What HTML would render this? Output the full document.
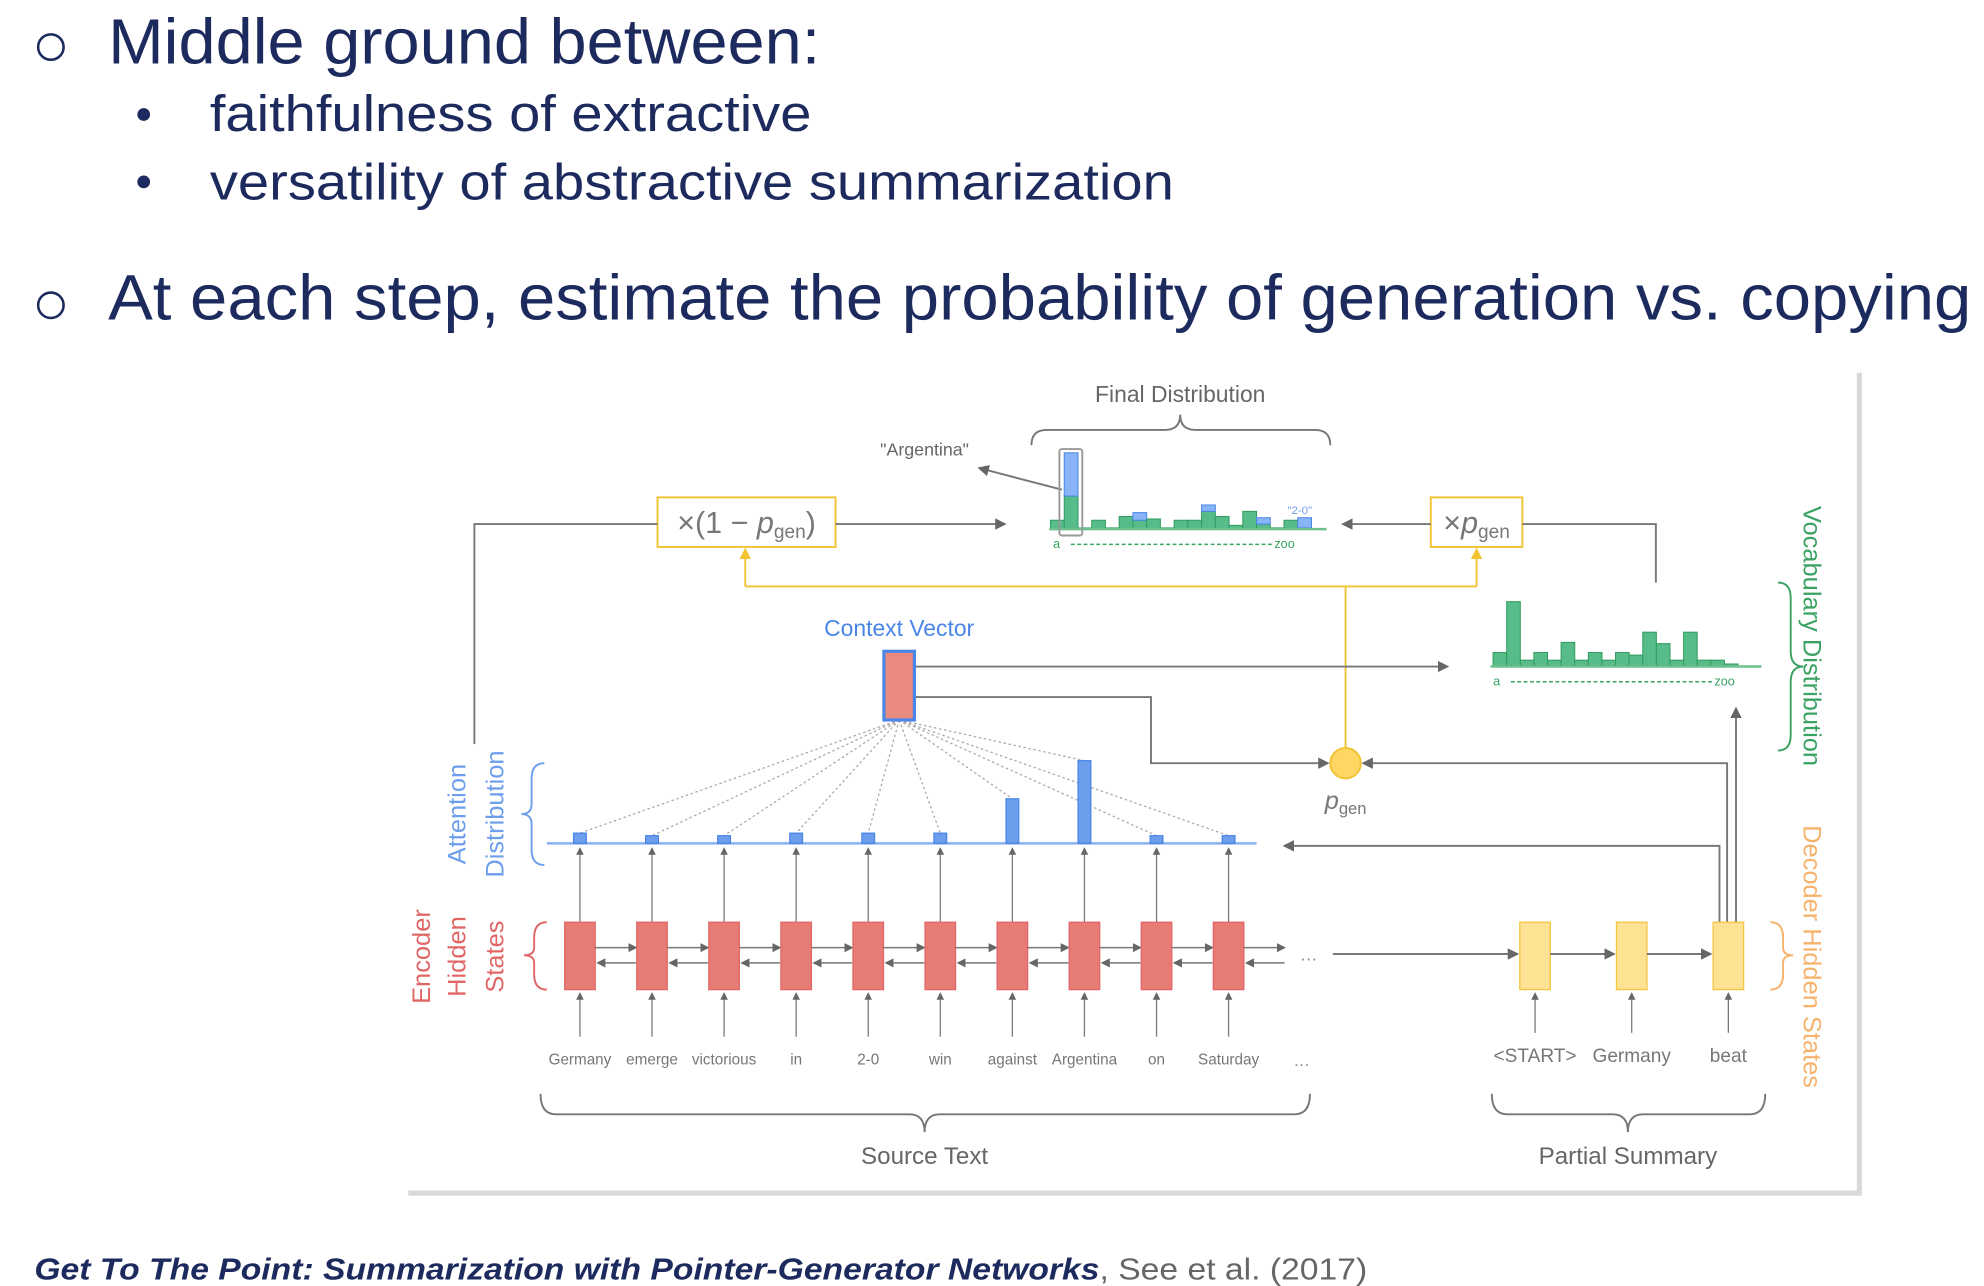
<!DOCTYPE html>
<html><head><meta charset="utf-8"><style>
html,body{margin:0;padding:0;background:#fff;}
svg{display:block;}
text{font-family:"Liberation Sans",sans-serif;}
</style></head><body>
<svg id="s" width="1984" height="1286" viewBox="0 0 1560 1011" preserveAspectRatio="none">
<defs>
<marker id="ag" markerWidth="6" markerHeight="6" refX="5" refY="3" orient="auto"><path d="M0,0 L6,3 L0,6z" fill="#666"/></marker>
<marker id="ay" markerWidth="6" markerHeight="6" refX="5" refY="3" orient="auto"><path d="M0,0 L6,3 L0,6z" fill="#f1c232"/></marker>
</defs>
<g fill="#1c2a5e">
<circle cx="40" cy="37" r="10" fill="none" stroke="#1c2a5e" stroke-width="2"/>
<text x="85" y="50" font-size="50" textLength="560" lengthAdjust="spacingAndGlyphs">Middle ground between:</text>
<circle cx="113" cy="90" r="5"/>
<text x="165" y="103" font-size="40" textLength="473" lengthAdjust="spacingAndGlyphs">faithfulness of extractive</text>
<circle cx="113" cy="143" r="5"/>
<text x="165" y="157" font-size="40" textLength="758" lengthAdjust="spacingAndGlyphs">versatility of abstractive summarization</text>
<circle cx="40" cy="240" r="10" fill="none" stroke="#1c2a5e" stroke-width="2"/>
<text x="85" y="251" font-size="50" textLength="1465" lengthAdjust="spacingAndGlyphs">At each step, estimate the probability of generation vs. copying</text>
</g>
<g>
<rect x="321" y="293" width="1143" height="647" fill="#d8d8d8"/>
<rect x="318" y="290" width="1142" height="646" fill="#fff"/>
</g>
<g id="d" fill="none" stroke="#777" stroke-width="1.5">
<text x="928" y="316" font-size="18" fill="#666" stroke="none" text-anchor="middle">Final Distribution</text>
<path d="M811,350 Q811,338 823,338 L916,338 Q928,338 928,326 Q928,338 940,338 L1034,338 Q1046,338 1046,350"/>
<text x="727" y="358" font-size="14" fill="#666" stroke="none" text-anchor="middle">"Argentina"</text>
<line x1="835" y1="385" x2="770" y2="368" marker-end="url(#ag)"/>
<rect x="517" y="391" width="140" height="39" stroke="#f1c232" fill="#fff"/>
<text x="587" y="419" font-size="24" fill="#777" stroke="none" text-anchor="middle" font-family="Liberation Serif">×(1 − <tspan font-style="italic">p</tspan><tspan font-size="15" dy="4">gen</tspan><tspan dy="-4">)</tspan></text>
<rect x="1125" y="391" width="72" height="39" stroke="#f1c232" fill="#fff"/>
<text x="1161" y="419" font-size="24" fill="#777" stroke="none" text-anchor="middle" font-family="Liberation Serif">×<tspan font-style="italic">p</tspan><tspan font-size="15" dy="4">gen</tspan></text>
<path d="M373,585 L373,412 L517,412"/>
<line x1="657" y1="412" x2="790" y2="412" marker-end="url(#ag)"/>
<line x1="1125" y1="412" x2="1056" y2="412" marker-end="url(#ag)"/>
<path d="M1197,412 L1302,412 L1302,458"/>
<path d="M586,461 L1161,461" stroke="#f1c232"/>
<line x1="586" y1="461" x2="586" y2="432" stroke="#f1c232" marker-end="url(#ay)"/>
<line x1="1161" y1="461" x2="1161" y2="432" stroke="#f1c232" marker-end="url(#ay)"/>
<line x1="1058" y1="461" x2="1058" y2="588" stroke="#f1c232"/>
<circle cx="1058" cy="600" r="12" fill="#fdd663" stroke="#f1c232"/>
<text x="1058" y="636" font-size="20" fill="#777" stroke="none" text-anchor="middle" font-family="Liberation Serif"><tspan font-style="italic">p</tspan><tspan font-size="13" dy="4">gen</tspan></text>
<text x="707" y="500" font-size="18" fill="#4a86e8" stroke="none" text-anchor="middle">Context Vector</text>
<line x1="719" y1="524" x2="1138" y2="524" marker-end="url(#ag)"/>
<path d="M719,548 L905,548 L905,600 L1044,600" marker-end="url(#ag)"/>
<path d="M1358,725 L1358,600 L1072,600" marker-end="url(#ag)"/>
<line x1="1365" y1="725" x2="1365" y2="557" marker-end="url(#ag)"/>
<path d="M1352,725 L1352,665 L1010,665" marker-end="url(#ag)"/>
<g id="dots" stroke="#aaa" stroke-width="1" stroke-dasharray="2,2"></g>
<rect x="695" y="512" width="24" height="54" fill="#e88a80" stroke="#4a86e8" stroke-width="2.5"/>
<line x1="430" y1="663" x2="988" y2="663" stroke="#8ab0f0" stroke-width="2"/>
<g id="att"></g>
<g id="enc"></g>
<text x="1022" y="755" font-size="14" fill="#888" stroke="none">…</text>
<line x1="1048" y1="750" x2="1193" y2="750" marker-end="url(#ag)"/>
<g id="dec"></g>
<text x="1017" y="838" font-size="13" fill="#888" stroke="none">…</text>
<g id="fin"></g>
<line x1="825" y1="416" x2="1043" y2="416" stroke="#6cc08b" stroke-width="2"/>
<rect x="833" y="353" width="18" height="68" rx="2" stroke="#999"/>
<text x="1022" y="404" font-size="9" fill="#6d9eeb" stroke="none" text-anchor="middle">"2-0"</text>
<text x="828" y="431" font-size="10" fill="#3aa262" stroke="none">a</text>
<line x1="842" y1="428" x2="1000" y2="428" stroke="#3aa262" stroke-width="1.2" stroke-dasharray="3,2"/>
<text x="1002" y="431" font-size="10" fill="#3aa262" stroke="none">zoo</text>
<g id="voc"></g>
<line x1="1172" y1="524" x2="1385" y2="524" stroke="#6cc08b" stroke-width="2"/>
<text x="1174" y="539" font-size="10" fill="#3aa262" stroke="none">a</text>
<line x1="1188" y1="536" x2="1346" y2="536" stroke="#3aa262" stroke-width="1.2" stroke-dasharray="3,2"/>
<text x="1348" y="539" font-size="10" fill="#3aa262" stroke="none">zoo</text>
<path d="M1398,458 Q1408,458 1408,470 L1408,512 Q1408,524 1418,524 Q1408,524 1408,536 L1408,578 Q1408,590 1398,590" stroke="#3aa262"/>
<text transform="translate(1418,500) rotate(90)" font-size="20" fill="#3aa262" stroke="none" text-anchor="middle">Vocabulary Distribution</text>
<path d="M1392,725 Q1402,725 1402,737 L1402,745 Q1402,751 1410,751 Q1402,751 1402,757 L1402,766 Q1402,778 1392,778" stroke="#f6b26b"/>
<text transform="translate(1418,752) rotate(90)" font-size="20" fill="#f6b26b" stroke="none" text-anchor="middle">Decoder Hidden States</text>
<path d="M428,600 Q418,600 418,612 L418,632 Q418,640 410,640 Q418,640 418,648 L418,668 Q418,680 428,680" stroke="#6d9eeb"/>
<text transform="translate(366,640) rotate(-90)" font-size="20" fill="#6d9eeb" stroke="none" text-anchor="middle">Attention</text>
<text transform="translate(396,640) rotate(-90)" font-size="20" fill="#6d9eeb" stroke="none" text-anchor="middle">Distribution</text>
<path d="M430,725 Q420,725 420,737 L420,745 Q420,751 412,751 Q420,751 420,757 L420,766 Q420,778 430,778" stroke="#e06666"/>
<text transform="translate(338,752) rotate(-90)" font-size="20" fill="#e06666" stroke="none" text-anchor="middle">Encoder</text>
<text transform="translate(366,752) rotate(-90)" font-size="20" fill="#e06666" stroke="none" text-anchor="middle">Hidden</text>
<text transform="translate(396,752) rotate(-90)" font-size="20" fill="#e06666" stroke="none" text-anchor="middle">States</text>
<g id="words"></g>
<path d="M425,860 Q425,876 437,876 L715,876 Q727,876 727,890 Q727,876 739,876 L1018,876 Q1030,876 1030,860"/>
<text x="727" y="915" font-size="19" fill="#666" stroke="none" text-anchor="middle">Source Text</text>
<path d="M1173,860 Q1173,876 1185,876 L1268,876 Q1280,876 1280,890 Q1280,876 1292,876 L1376,876 Q1388,876 1388,860"/>
<text x="1280" y="915" font-size="19" fill="#666" stroke="none" text-anchor="middle">Partial Summary</text>
</g>
<text x="27" y="1006" font-size="24" textLength="1048" lengthAdjust="spacingAndGlyphs"><tspan font-weight="bold" font-style="italic" fill="#1c2a5e">Get To The Point: Summarization with Pointer-Generator Networks</tspan><tspan fill="#666">, See et al. (2017)</tspan></text>
</svg>
<script>
const sourceWords = ["Germany","emerge","victorious","in","2-0","win","against","Argentina","on","Saturday"];
const attentionValues = [8,6,6,8,8,8,35,65,6,6];
const summaryWords = ["<START>","Germany","beat"];
const vocabValues = [11,51,5,11,5,19,5,11,5,11,9,27,18,5,27,5,5,2];
const finalGreen = [7,26,1,7,1,10,7,8,1,7,7,14,10,3,14,4,1,7,1];
const finalBlue = [0,34,0,0,0,0,6,0,0,0,0,5,0,0,0,5,0,0,8];

const NS="http://www.w3.org/2000/svg";
function mk(tag,attrs,parent){const e=document.createElementNS(NS,tag);for(const k in attrs)e.setAttribute(k,attrs[k]);parent.appendChild(e);return e;}
const encX = i => 456 + i*56.67;
const attY = v => 663 - v;
const decX = i => 1207 + i*76;
const att=document.getElementById('att'),enc=document.getElementById('enc'),dots=document.getElementById('dots'),words=document.getElementById('words'),dec=document.getElementById('dec');
sourceWords.forEach((w,i)=>{
  const x=encX(i);
  const l=mk('line',{x1:707,y1:566,x2:x,y2:attY(attentionValues[i])},dots);
  
  
  const b=mk('rect',{x:x-5,y:attY(attentionValues[i]),width:10,height:attentionValues[i],fill:'#6d9eeb',stroke:'#4a86e8','stroke-width':1},att);
  
  
  const a=mk('line',{x1:x,y1:725,x2:x,y2:667,'marker-end':'url(#ag)','stroke-width':1},enc);
  
  
  const r=mk('rect',{x:x-12,y:725,width:24,height:53,fill:'#e67c73',stroke:'#e06666','stroke-width':1},enc);
  
  
  const a2=mk('line',{x1:x,y1:815,x2:x,y2:781,'marker-end':'url(#ag)','stroke-width':1},enc);
  
  
  const h1=mk('line',{x1:x+12,y1:745,x2:x+44,y2:745,'marker-end':'url(#ag)','stroke-width':1.2},enc);
  
  
  const h2=mk('line',{x1:x+44,y1:757,x2:x+14,y2:757,'marker-end':'url(#ag)','stroke-width':1.2},enc);
  
  
  const t=mk('text',{x:x,y:837,'font-size':12,fill:'#777',stroke:'none','text-anchor':'middle'},words);
  t.textContent=w;
  
  
});
summaryWords.forEach((w,i)=>{
  const x=decX(i);
  if(i>0){const h=mk('line',{x1:decX(i-1)+12,y1:750,x2:x-14,y2:750,'marker-end':'url(#ag)'},dec);
  
  }
  const r=mk('rect',{x:x-12,y:725,width:24,height:53,fill:'#fde293',stroke:'#f6c343','stroke-width':1},dec);
  
  
  const a=mk('line',{x1:x,y1:812,x2:x,y2:781,'marker-end':'url(#ag)','stroke-width':1},dec);
  
  
  const t=mk('text',{x:x,y:835,'font-size':15,fill:'#777',stroke:'none','text-anchor':'middle'},dec);
  t.textContent=w;
  
  
});
const voc=document.getElementById('voc');
vocabValues.forEach((v,i)=>{
  const b=mk('rect',{x:1174+i*10.7,y:524-v,width:10.7,height:v,fill:'#57bb8a',stroke:'#2e9e5e','stroke-width':0.8},voc);
  
  
});
const fin=document.getElementById('fin');
finalGreen.forEach((g,i)=>{
  const x=826+i*10.8;
  const b=mk('rect',{x:x,y:416-g,width:10.8,height:g,fill:'#57bb8a',stroke:'#2e9e5e','stroke-width':0.8},fin);
  
  
  if(finalBlue[i]>0){
    const c=mk('rect',{x:x,y:416-g-finalBlue[i],width:10.8,height:finalBlue[i],fill:'#8ab4f8',stroke:'#4a86e8','stroke-width':0.8},fin);
    
    
  }
});
</script>
</body></html>
